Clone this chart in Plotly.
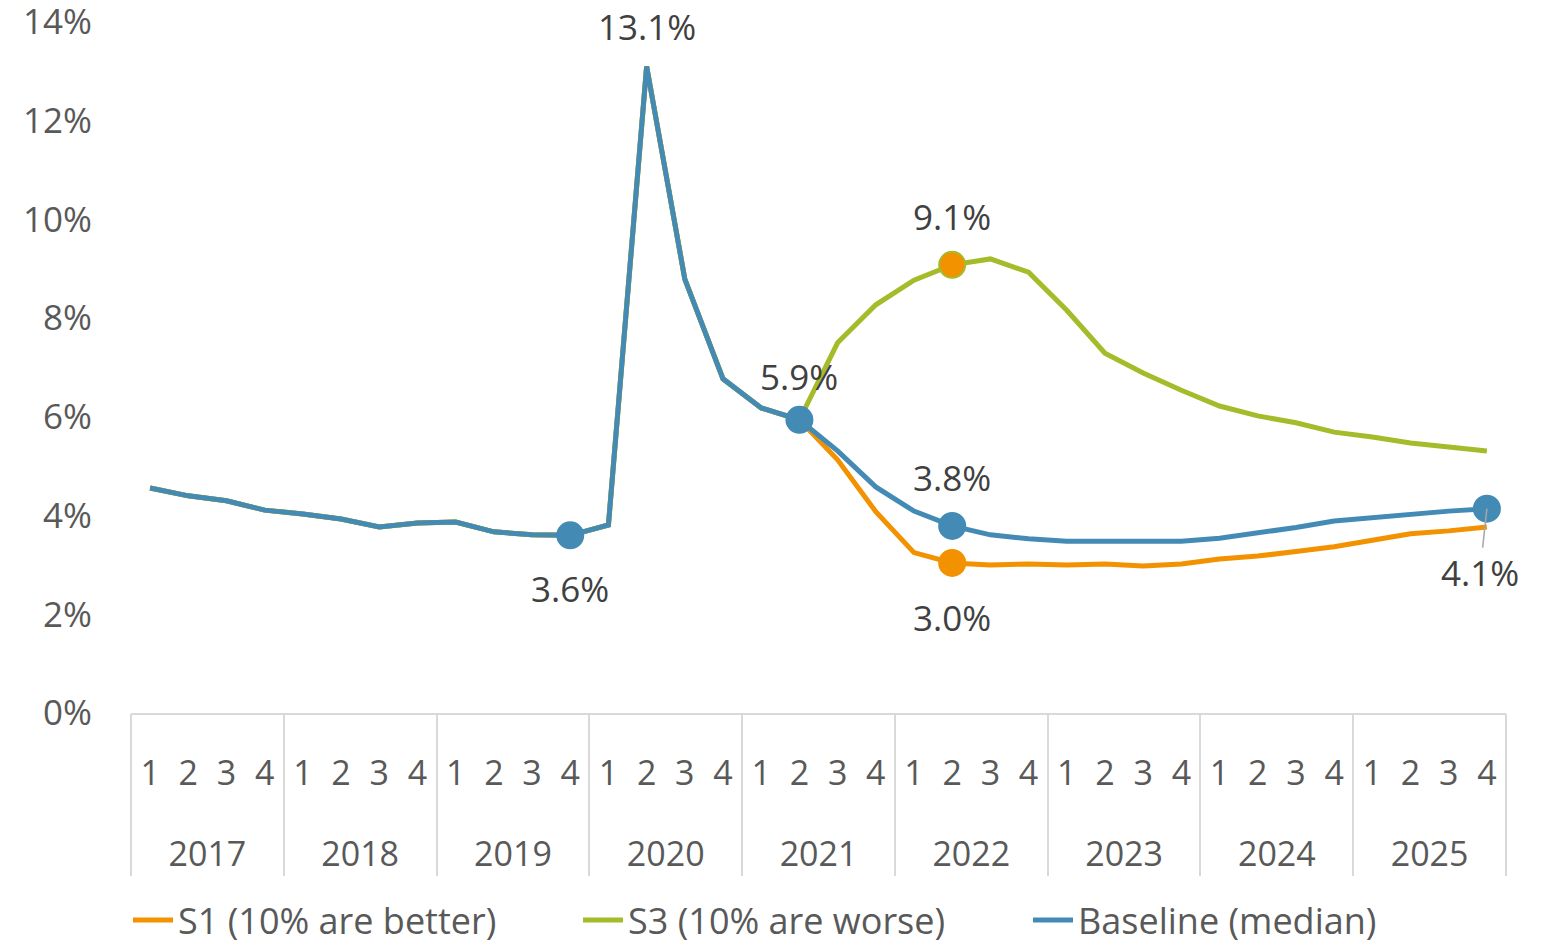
import plotly.graph_objects as go

# Quarterly axis: 2017 Q1 .. 2025 Q4
years = ["2017", "2018", "2019", "2020", "2021", "2022", "2023", "2024", "2025"]
quarters = ["1", "2", "3", "4"]

# Observed history, 2017 Q1 .. 2021 Q2 (shared by all scenarios)
history = [4.56, 4.40, 4.30, 4.11, 4.03, 3.93, 3.77, 3.85, 3.87, 3.67, 3.61, 3.60,
           3.81, 13.10, 8.79, 6.77, 6.18, 5.94]

# Projections, 2021 Q3 .. 2025 Q4
s1_proj = [5.13, 4.08, 3.25, 3.04, 3.00, 3.02, 3.00, 3.02, 2.98, 3.02,
           3.12, 3.18, 3.27, 3.37, 3.50, 3.63, 3.69, 3.77]
s3_proj = [7.50, 8.27, 8.77, 9.08, 9.20, 8.93, 8.16, 7.29, 6.89, 6.54,
           6.22, 6.02, 5.88, 5.69, 5.59, 5.47, 5.39, 5.31]
base_proj = [5.31, 4.58, 4.09, 3.79, 3.61, 3.53, 3.48, 3.48, 3.48, 3.48,
             3.54, 3.64, 3.76, 3.89, 3.96, 4.03, 4.09, 4.14]

s1 = history + s1_proj
s3 = history + s3_proj
baseline = history + base_proj

series_names = ["S1 (10% are better)", "S3 (10% are worse)", "Baseline (median)"]
y_ticks = [0, 2, 4, 6, 8, 10, 12, 14]

ORANGE = "#F39200"
GREEN = "#A5BB2A"
BLUE = "#438BB5"
GRID = "#D9D9D9"
FONT = "Open Sans"

# position index of every quarter on the x scale
x_pos = list(range(len(years) * len(quarters)))
x_quarter_text = [q for _ in years for q in quarters]
year_centers = [len(quarters) * i + (len(quarters) - 1) / 2 for i in range(len(years))]
year_bounds = [len(quarters) * i - 0.5 for i in range(len(years) + 1)]
x_range = [-0.5, len(x_pos) - 0.5]

fig = go.Figure()

# carrier traces so the year-label and divider axes get drawn
for ax in ["x2", "x3"]:
    fig.add_trace(go.Scatter(x=[], y=[], xaxis=ax, yaxis="y",
                             showlegend=False, hoverinfo="skip"))

for name, vals, col in zip(series_names, [s1, s3, baseline], [ORANGE, GREEN, BLUE]):
    fig.add_trace(go.Scatter(
        x=x_pos, y=vals, mode="lines", name=name,
        line=dict(color=col, width=5),
        hoverinfo="skip",
    ))

def marker_trace(vals, idxs, fill, edge):
    return go.Scatter(
        x=[x_pos[i] for i in idxs], y=[vals[i] for i in idxs],
        mode="markers", showlegend=False, hoverinfo="skip",
        marker=dict(size=26, color=fill, line=dict(color=edge, width=2)),
    )

fig.add_trace(marker_trace(s1, [21], ORANGE, ORANGE))
fig.add_trace(marker_trace(s3, [21], ORANGE, GREEN))
fig.add_trace(marker_trace(baseline, [11, 17, 21, 35], BLUE, BLUE))

# Value labels (series, quarter index, vertical shift in px)
labels = [
    (baseline, 13, 40),
    (s3, 21, 48),
    (baseline, 17, 43),
    (baseline, 21, 48),
    (s1, 21, -55),
    (baseline, 11, -53),
]
for vals, i, shift in labels:
    fig.add_annotation(
        x=x_pos[i], y=vals[i], xref="x", yref="y", text=f"{vals[i]:.1f}%",
        showarrow=False, yshift=shift,
        font=dict(family=FONT, size=35, color="#404040"),
    )

fig.add_annotation(
    x=x_pos[35], y=baseline[35], xref="x", yref="y", text=f"{baseline[35]:.1f}%",
    showarrow=True, arrowhead=0, arrowwidth=1.5, arrowcolor="#A6A6A6",
    ax=-7, ay=64, standoff=0,
    font=dict(family=FONT, size=35, color="#404040"),
)

axis_common = dict(range=x_range, showgrid=False, zeroline=False, automargin=False)

fig.update_layout(
    width=1543, height=947,
    margin=dict(l=131, r=37, t=22, b=234),
    paper_bgcolor="white", plot_bgcolor="white",
    font=dict(family=FONT, color="#595959"),
    showlegend=True,
    legend=dict(
        orientation="h",
        xref="container", x=128 / 1543, xanchor="left",
        yref="container", y=1 - 920 / 947, yanchor="middle",
        font=dict(family=FONT, size=36, color="#595959"),
        entrywidth=395, entrywidthmode="pixels", itemwidth=40,
    ),
    # quarter numbers
    xaxis=dict(
        **axis_common,
        tickmode="array", tickvals=x_pos, ticktext=x_quarter_text,
        showline=True, linecolor=GRID, linewidth=1.5, ticks="",
        tickfont=dict(family=FONT, size=34, color="#595959"),
        ticklabelstandoff=29,
    ),
    # year labels
    xaxis2=dict(
        **axis_common, overlaying="x", anchor="y", side="bottom",
        tickmode="array", tickvals=year_centers, ticktext=years,
        showline=False, ticks="",
        tickfont=dict(family=FONT, size=34, color="#595959"),
        ticklabelstandoff=118,
    ),
    # year dividers
    xaxis3=dict(
        **axis_common, overlaying="x", anchor="y", side="bottom",
        tickmode="array", tickvals=year_bounds, showticklabels=False,
        showline=False, ticks="outside", ticklen=162, tickwidth=1.5, tickcolor=GRID,
    ),
    yaxis=dict(
        range=[0, 14], tickmode="array", tickvals=y_ticks,
        ticktext=[f"{v}%" for v in y_ticks],
        showgrid=False, zeroline=False, showline=False, automargin=False,
        ticklabeloverflow="allow",
        tickfont=dict(family=FONT, size=35, color="#595959"),
        ticklabelstandoff=38,
    ),
)

fig.write_html("out.html")
